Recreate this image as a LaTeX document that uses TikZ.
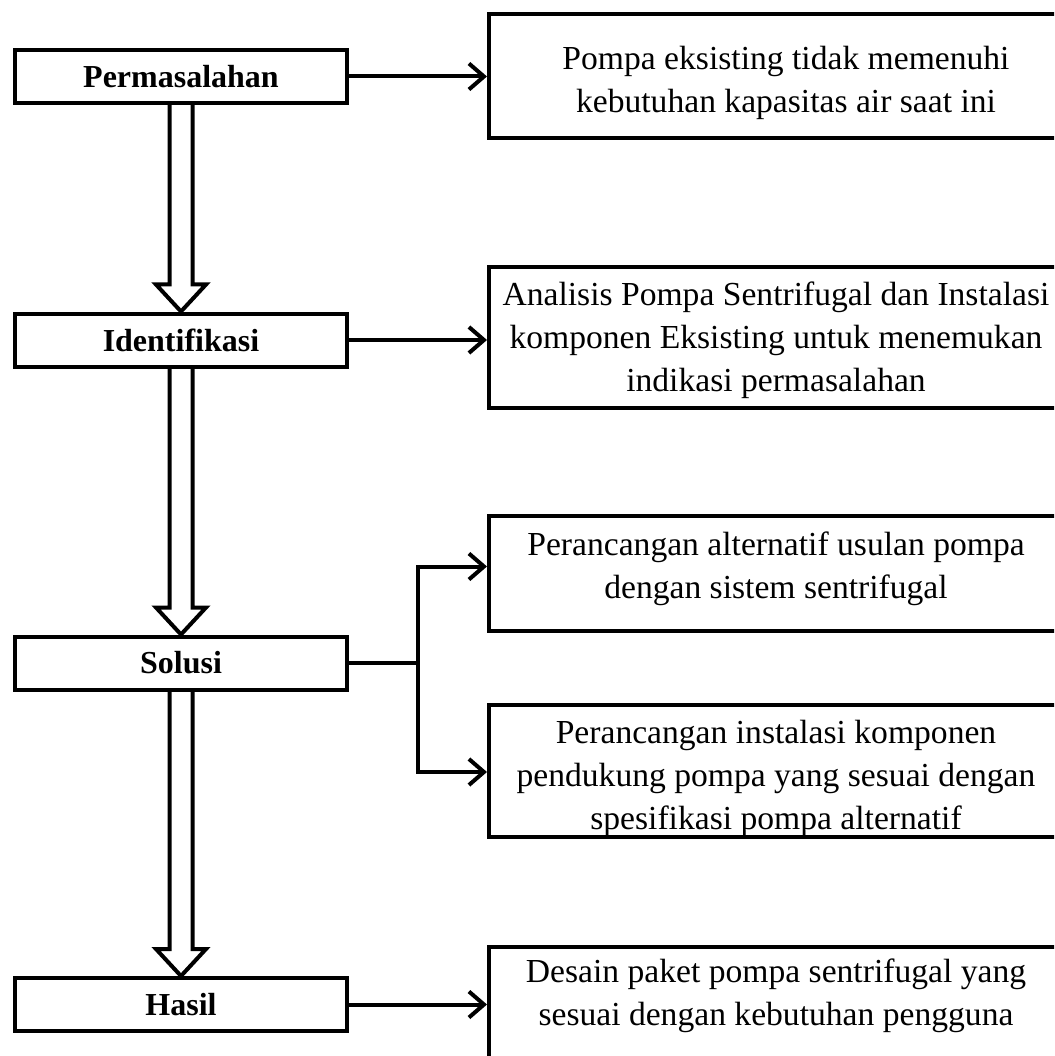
\documentclass[tikz,border=0pt]{standalone}
\usepackage{fontspec}
\setmainfont{Liberation Serif}
\usetikzlibrary{arrows.meta,calc}
\tikzset{
  lbox/.style={draw, line width=4pt, minimum width=332pt, minimum height=53pt, inner sep=0pt,
    font=\bfseries\fontsize{32}{38}\selectfont},
  rbox/.style={draw, line width=4pt, minimum width=578pt, inner sep=0pt},
  rtext/.style={align=center, inner sep=0pt, font=\fontsize{33.6}{43}\selectfont},
  arr/.style={line width=4pt, -{Straight Barb[length=15pt,width=26pt]}},
  conn/.style={line width=4pt},
  dbl/.style={line width=4pt, line join=miter}
}
\newcommand\dblarr[2]{%
  \draw[dbl] ([xshift=-11.5pt]#1.south) -- ([xshift=-11.5pt,yshift=27pt]#2.north)
    -- ([xshift=-25pt,yshift=27pt]#2.north) -- (#2.north)
    -- ([xshift=25pt,yshift=27pt]#2.north) -- ([xshift=11.5pt,yshift=27pt]#2.north)
    -- ([xshift=11.5pt]#1.south);}
\begin{document}
\begin{tikzpicture}[x=1pt,y=-1pt]
\useasboundingbox (0,0) rectangle (1054,1056);
\clip (0,0) rectangle (1054,1056);
% left boxes
\node[lbox] (p) at (181,76.5) {Permasalahan};
\node[lbox] (i) at (181,340) {Identifikasi};
\node[lbox] (s) at (181,663) {Solusi};
\node[lbox] (h) at (181,1004.5) {Hasil};
% right boxes
\node[rbox, minimum height=124pt] (b1) at (778,76) {};
\node[rtext] (t1) at (786,83) {Pompa eksisting tidak memenuhi\\kebutuhan kapasitas air saat ini};
\node[rbox, minimum height=141pt] (b2) at (778,337.5) {};
\node[rtext] (t2) at (776,340) {Analisis Pompa Sentrifugal dan Instalasi\\komponen Eksisting untuk menemukan\\indikasi permasalahan};
\node[rbox, minimum height=115pt] (b3) at (778,573.5) {};
\node[rtext] (t3) at (776,569) {Perancangan alternatif usulan pompa\\dengan sistem sentrifugal};
\node[rbox, minimum height=132pt] (b4) at (778,771) {};
\node[rtext] (t4) at (776,778) {Perancangan instalasi komponen\\pendukung pompa yang sesuai dengan\\spesifikasi pompa alternatif};
\node[rbox, minimum height=131pt] (b5) at (778,1012) {};
\node[rtext] (t5) at (776,996) {Desain paket pompa sentrifugal yang\\sesuai dengan kebutuhan pengguna};
% double arrows
\dblarr{p}{i}
\dblarr{i}{s}
\dblarr{s}{h}
% horizontal arrows
\draw[arr] (p.east) -- (p.east -| b1.west);
\draw[arr] (i.east) -- (i.east -| b2.west);
\draw[arr] (h.east) -- (h.east -| b5.west);
\coordinate (j) at (418,663);
\draw[conn] (s.east) -- (j);
\draw[arr] ([yshift=-2pt]j) |- ([yshift=7pt]b3.west);
\draw[arr] ([yshift=2pt]j) |- ([yshift=-1pt]b4.west);
\end{tikzpicture}
\end{document}
